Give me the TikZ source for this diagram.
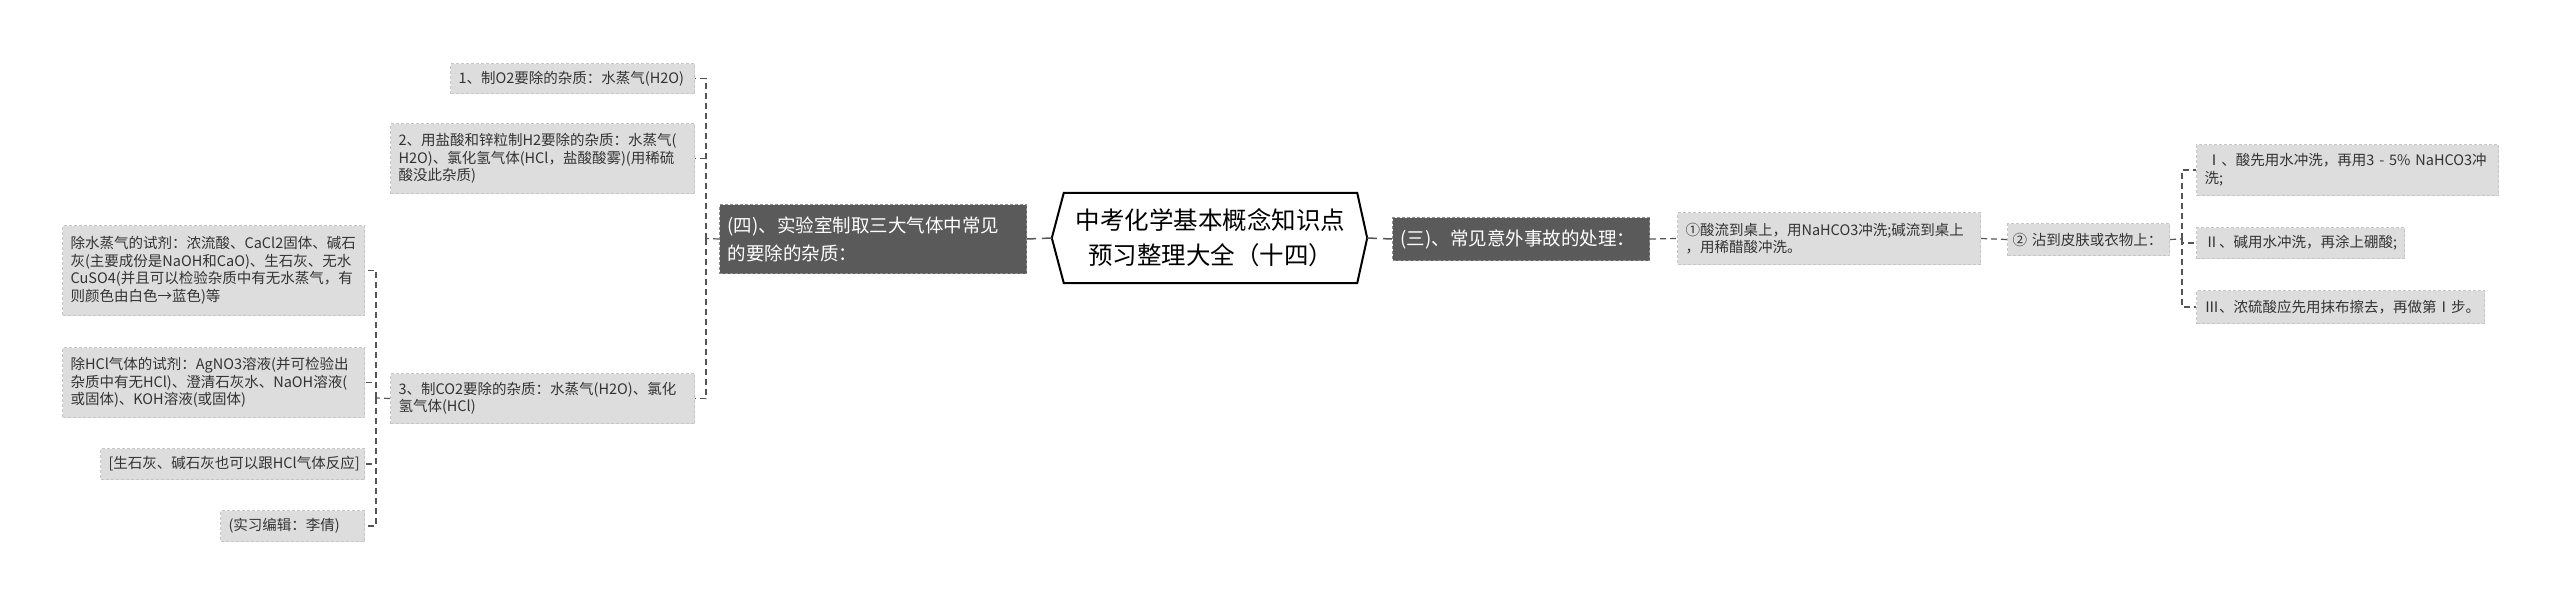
\documentclass[tikz,border=0pt]{standalone}
\usepackage{fontspec}
\setmainfont{Noto Sans CJK SC}
\definecolor{leaf}{HTML}{DDDDDD}
\definecolor{leafedge}{HTML}{C6C6C6}
\definecolor{darkfill}{HTML}{5A5A5A}
\definecolor{darkedge}{HTML}{8E8E8E}
\definecolor{ink}{HTML}{333333}
\definecolor{wire}{HTML}{555555}
\tikzset{
  leaf/.style={fill=leaf, draw=leafedge, dash pattern=on 3pt off 2pt, line width=1pt,
    inner xsep=8pt, inner ysep=0pt, align=left, text=ink, anchor=north west,
    font=\fontsize{14.5}{17.5}\selectfont},
  darkbox/.style={fill=darkfill, draw=darkedge, dash pattern=on 3pt off 2pt, line width=1pt,
    inner xsep=8pt, inner ysep=0pt, align=left, text=white, anchor=north west,
    font=\fontsize{18.5}{28}\selectfont},
  conn/.style={draw=wire, line width=1.2pt, dash pattern=on 6pt off 4pt},
  rootconn/.style={draw=wire, line width=1.5pt, dash pattern=on 9pt off 6pt on 40pt},
}
\begin{document}
\begin{tikzpicture}[x=1pt, y=-1pt]
\fill[white] (0,0) rectangle (2560,605);
\useasboundingbox (0,0) rectangle (2560,605);

% root
\node[font=\fontsize{24.5}{35}\selectfont, align=center, text=black, minimum width=293pt,
  minimum height=90pt, inner sep=0pt] (root) at (1210.5,238) {中考化学基本概念知识点\\预习整理大全（十四）};
\coordinate (rootL) at ([xshift=-12pt]root.west);
\coordinate (rootR) at ([xshift=10pt]root.east);
\draw[line width=2pt, line join=miter] (root.north west) -- (root.north east) -- (rootR)
  -- (root.south east) -- (root.south west) -- (rootL) -- cycle;

% left branch
\node[darkbox, text width=291pt, minimum height=69pt] (four) at (719,204)
  {(四)、实验室制取三大气体中常见\\的要除的杂质：};
\node[leaf, text width=228pt, minimum height=30pt] (a1) at (450,63)
  {1、制O2要除的杂质：水蒸气(H2O)};
\node[leaf, text width=288pt, minimum height=70pt] (a2) at (390,123)
  {2、用盐酸和锌粒制H2要除的杂质：水蒸气(\\H2O)、氯化氢气体(HCl，盐酸酸雾)(用稀硫\\酸没此杂质)};
\node[leaf, text width=288pt, minimum height=50pt] (a3) at (390,373)
  {3、制CO2要除的杂质：水蒸气(H2O)、氯化\\氢气体(HCl)};
\node[leaf, text width=286pt, minimum height=90pt] (b1) at (62,225)
  {除水蒸气的试剂：浓流酸、CaCl2固体、碱石\\灰(主要成份是NaOH和CaO)、生石灰、无水\\CuSO4(并且可以检验杂质中有无水蒸气，有\\则颜色由白色→蓝色)等};
\node[leaf, text width=286pt, minimum height=70pt] (b2) at (62,347)
  {除HCl气体的试剂：AgNO3溶液(并可检验出\\杂质中有无HCl)、澄清石灰水、NaOH溶液(\\或固体)、KOH溶液(或固体)};
\node[leaf, text width=248pt, minimum height=31pt] (b3) at (100,448)
  {[生石灰、碱石灰也可以跟HCl气体反应]};
\node[leaf, text width=128pt, minimum height=31pt] (b4) at (220,510)
  {(实习编辑：李倩)};

% right branch
\node[darkbox, text width=241pt, minimum height=43pt] (three) at (1392,217)
  {(三)、常见意外事故的处理：};
\node[leaf, text width=287pt, minimum height=52pt] (r1) at (1677,212)
  {①酸流到桌上，用NaHCO3冲洗;碱流到桌上\\，用稀醋酸冲洗。};
\node[leaf, inner xsep=5pt, text width=152pt, minimum height=32pt] (r2) at (2007,223)
  {②~沾到皮肤或衣物上：};
\node[leaf, text width=286pt, minimum height=51pt] (s1) at (2196,144)
  {\,Ⅰ、酸先用水冲洗，再用3 - 5\% NaHCO3冲\\洗;};
\node[leaf, text width=192pt, minimum height=31pt] (s2) at (2196,227)
  {Ⅱ、碱用水冲洗，再涂上硼酸;};
\node[leaf, text width=272pt, minimum height=33pt] (s3) at (2196,290)
  {Ⅲ、浓硫酸应先用抹布擦去，再做第Ⅰ步。};

% connectors
\draw[rootconn] (four.east) -- (rootL);
\draw[rootconn] (three.west) -- (rootR);

\coordinate (lbus) at (706,238.5);
\draw[conn] (four.west) -- (lbus);
\draw[conn] (lbus) |- (a1.east);
\draw[conn] (lbus) |- (a2.east);
\draw[conn] (lbus) |- (a3.east);

\coordinate (mbus) at (376,398);
\draw[conn] (a3.west) -- (mbus);
\draw[conn] (mbus) |- (b1.east);
\draw[conn] (mbus) |- (b2.east);
\draw[conn] (mbus) |- (b3.east);
\draw[conn] (mbus) |- (b4.east);

\draw[conn] (three.east) -- (r1.west);
\draw[conn] (r1.east) -- (r2.west);
\coordinate (rbus) at (2182,239);
\draw[conn] (r2.east) -- (rbus);
\draw[conn] (rbus) |- (s1.west);
\draw[conn] (rbus) |- (s2.west);
\draw[conn] (rbus) |- (s3.west);
\end{tikzpicture}
\end{document}
